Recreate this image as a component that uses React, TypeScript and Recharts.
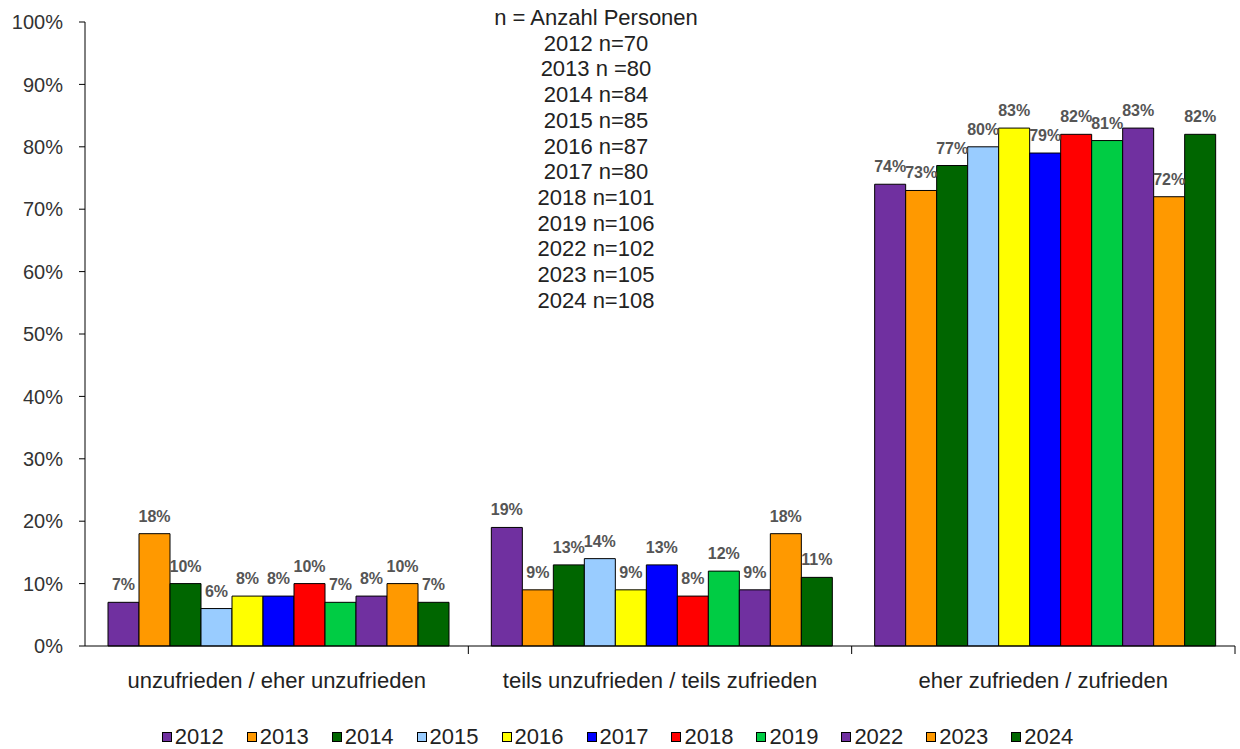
import React from "react";
import { BarChart, Bar, XAxis, YAxis, Legend, LabelList } from "recharts";

const categories = [
  "unzufrieden / eher unzufrieden",
  "teils unzufrieden / teils zufrieden",
  "eher zufrieden / zufrieden",
];
const years = ["2012", "2013", "2014", "2015", "2016", "2017", "2018", "2019", "2022", "2023", "2024"];
const colors = ["#7030A0", "#FF9900", "#006600", "#99CCFF", "#FFFF00", "#0000FF", "#FF0000", "#00CC44", "#7030A0", "#FF9900", "#006600"];
const v2012 = [7, 19, 74];
const v2013 = [18, 9, 73];
const v2014 = [10, 13, 77];
const v2015 = [6, 14, 80];
const v2016 = [8, 9, 83];
const v2017 = [8, 13, 79];
const v2018 = [10, 8, 82];
const v2019 = [7, 12, 81];
const v2022 = [8, 9, 83];
const v2023 = [10, 18, 72];
const v2024 = [7, 11, 82];
const seriesValues = [v2012, v2013, v2014, v2015, v2016, v2017, v2018, v2019, v2022, v2023, v2024];
const yTicks = [0, 10, 20, 30, 40, 50, 60, 70, 80, 90, 100];
const noteLines = [
  "n = Anzahl Personen",
  "2012 n=70",
  "2013 n =80",
  "2014 n=84",
  "2015 n=85",
  "2016 n=87",
  "2017 n=80",
  "2018 n=101",
  "2019 n=106",
  "2022 n=102",
  "2023 n=105",
  "2024 n=108",
];

const data = categories.map((c, i) => {
  const row: Record<string, any> = { name: c };
  years.forEach((y, j) => {
    row["y" + y] = seriesValues[j][i];
  });
  return row;
});

const FONT = "Liberation Sans, Arial, sans-serif";
const W = 1240;
const H = 749;
const M = { top: 22, right: 5, left: 0, bottom: 0 };
const Y_W = 85;
const plotW = W - M.left - M.right - Y_W;
const halfBand = plotW / categories.length / 2;

const XTick = (props: any) => {
  const { x, y, payload } = props;
  return (
    <g>
      <line x1={x + halfBand} x2={x + halfBand} y1={y - 8} y2={y} stroke="#000" strokeWidth={1} />
      <text x={x} y={y + 34} textAnchor="middle" fontSize={22} fill="#222" fontFamily={FONT}>
        {payload.value}
      </text>
    </g>
  );
};

const LegendContent = (props: any) => {
  const { payload } = props;
  return (
    <div style={{ display: "flex", justifyContent: "center", height: 24, lineHeight: "24px", fontSize: 22, fontFamily: FONT, color: "#222" }}>
      {payload.map((p: any, i: number) => (
        <div key={i} style={{ display: "flex", alignItems: "center", marginRight: i < payload.length - 1 ? 23 : 0 }}>
          <span style={{ display: "inline-block", width: 8, height: 8, background: p.color, border: "1px solid #000", marginRight: 3 }} />
          <span>{p.value}</span>
        </div>
      ))}
    </div>
  );
};

export default function App() {
  return (
    <div style={{ position: "absolute", left: 0, top: 0, width: W, height: H, background: "#fff", fontFamily: FONT }}>
      <BarChart width={W} height={H} data={data} margin={M} barGap={0} barCategoryGap="6%">
        <XAxis
          dataKey="name"
          axisLine={{ stroke: "#000" }}
          tickLine={false}
          tick={<XTick />}
          height={79}
          interval={0}
        />
        <YAxis
          width={Y_W}
          domain={[0, 100]}
          ticks={yTicks}
          interval={0}
          tickFormatter={(v: number) => v + "%"}
          axisLine={{ stroke: "#000" }}
          tickLine={{ stroke: "#000" }}
          tickSize={6}
          tickMargin={16}
          tick={{ fontSize: 20, fill: "#333", fontFamily: FONT }}
        />
        <Legend verticalAlign="bottom" align="center" content={<LegendContent />} />
        {years.map((y, j) => (
          <Bar key={y} dataKey={"y" + y} name={y} fill={colors[j]} stroke="#000" strokeWidth={1} isAnimationActive={false}>
            <LabelList
              dataKey={"y" + y}
              position="top"
              offset={12}
              formatter={(v: number) => v + "%"}
              style={{ fontSize: 16, fontWeight: "bold", fill: "#555", fontFamily: FONT }}
            />
          </Bar>
        ))}
      </BarChart>
      <div style={{ position: "absolute", left: 396, top: 5, width: 400, textAlign: "center", fontSize: 22, lineHeight: "25.7px", color: "#222" }}>
        {noteLines.map((l) => (
          <div key={l}>{l}</div>
        ))}
      </div>
    </div>
  );
}
